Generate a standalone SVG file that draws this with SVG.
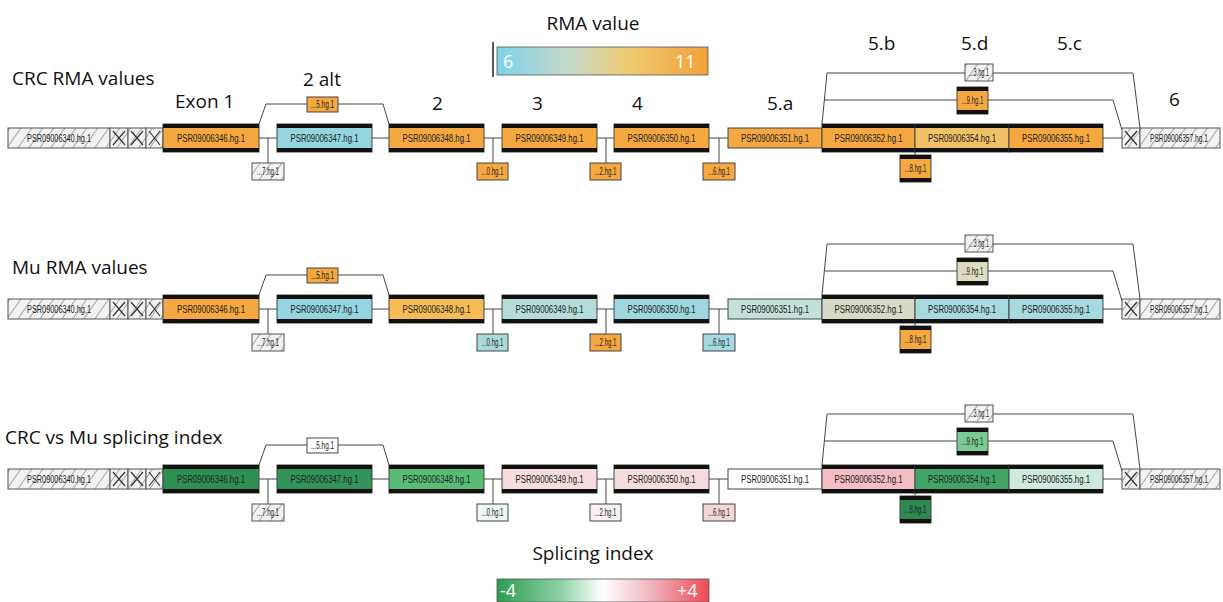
<svg xmlns="http://www.w3.org/2000/svg" width="1223" height="602" viewBox="0 0 1223 602">
<style>
.lbl{font-family:"Open Sans","Liberation Sans",sans-serif;font-size:19px;fill:#111}
.bt{font-family:"Liberation Sans",Arial,sans-serif;font-size:10px;fill:#222;text-anchor:middle}
.box{stroke:#444;stroke-width:1}
.bar{fill:#111}
.hat{fill:url(#hatch);stroke:#555;stroke-width:1}
.con{fill:none;stroke:#444;stroke-width:1}
.xl{stroke:#333;stroke-width:1.2;fill:none}
.leg{font-family:"Open Sans","Liberation Sans",sans-serif;font-size:18px;fill:#fff}
</style>
<defs>
<pattern id="hatch" patternUnits="userSpaceOnUse" width="9" height="9" patternTransform="rotate(35)">
<rect width="9" height="9" fill="#f2f2f2"/>
<line x1="0" y1="0" x2="0" y2="9" stroke="#666" stroke-width="1.1"/>
</pattern>
<linearGradient id="rma" x1="0" x2="1" y1="0" y2="0">
<stop offset="0" stop-color="#7ED3E8"/>
<stop offset="0.35" stop-color="#C5D9C8"/>
<stop offset="0.62" stop-color="#EECB70"/>
<stop offset="1" stop-color="#F4A03B"/>
</linearGradient>
<linearGradient id="si" x1="0" x2="1" y1="0" y2="0">
<stop offset="0" stop-color="#2E9B4F"/>
<stop offset="0.3" stop-color="#8ED2A6"/>
<stop offset="0.5" stop-color="#FFFFFF"/>
<stop offset="0.72" stop-color="#F0B6C0"/>
<stop offset="1" stop-color="#EC4B55"/>
</linearGradient>
</defs>
<rect width="1223" height="602" fill="#fff"/>

<g id="legend-rma">
<text class="lbl" x="593" y="30" text-anchor="middle">RMA value</text>
<line x1="493" y1="42" x2="493" y2="77" stroke="#222" stroke-width="1.5"/>
<rect x="497" y="47" width="211" height="28" fill="url(#rma)" stroke="#555" stroke-width="0.8"/>
<text class="leg" x="503" y="68">6</text>
<text class="leg" x="675" y="68">11</text>
</g>
<g id="legend-si">
<text class="lbl" x="593" y="560" text-anchor="middle">Splicing index</text>
<rect x="497" y="579" width="212" height="23" fill="url(#si)" stroke="#555" stroke-width="0.8"/>
<text class="leg" x="500" y="597">-4</text>
<text class="leg" x="677" y="597">+4</text>
</g>

<g id="labels">
<text class="lbl" x="12" y="85">CRC RMA values</text>
<text class="lbl" x="12" y="274">Mu RMA values</text>
<text class="lbl" x="5" y="444">CRC vs Mu splicing index</text>
<text class="lbl" x="175" y="108">Exon 1</text>
<text class="lbl" x="303" y="86">2 alt</text>
<text class="lbl" x="432" y="110">2</text>
<text class="lbl" x="532" y="110">3</text>
<text class="lbl" x="632" y="110">4</text>
<text class="lbl" x="767" y="110">5.a</text>
<text class="lbl" x="868" y="50">5.b</text>
<text class="lbl" x="961" y="50">5.d</text>
<text class="lbl" x="1057" y="50">5.c</text>
<text class="lbl" x="1169" y="106">6</text>
</g>

<!-- ROW 1 -->
<g id="row1">
<g id="r1-connectors">
<path class="con" d="M259,138 H277 M268,138 V163 M259,124 L266,104 H383 L389,124 M372,138 H389 M484,138 H502 M493,138 V163 M597,138 H614 M606,138 V163 M709,138 H728 M719,138 V163 M915,152 V155 M822,124 L827,73 H1133 L1140,128 M824.4,100 H1113 L1122,130 M1103,138 H1122"/>
</g>
<g id="r1-psr6340"><rect class="hat" x="8" y="128" width="102" height="20"/><text class="bt" x="59" y="141.5" textLength="64" lengthAdjust="spacingAndGlyphs">PSR09006340.hg.1</text></g>
<g id="r1-x1"><rect class="hat" x="110" y="128" width="18" height="20"/><path class="xl" d="M113,131 L125,145 M125,131 L113,145"/></g>
<g id="r1-x2"><rect class="hat" x="128" y="128" width="18" height="20"/><path class="xl" d="M131,131 L143,145 M143,131 L131,145"/></g>
<g id="r1-x3"><rect class="hat" x="146" y="128" width="17" height="20"/><path class="xl" d="M149,131 L160,145 M160,131 L149,145"/></g>
<g id="r1-psr6346"><rect class="box" x="163" y="124" width="96" height="28" fill="#F5A83F"/><rect class="bar" x="163" y="124" width="96" height="4"/><rect class="bar" x="163" y="148" width="96" height="4"/><text class="bt" x="211" y="141.5" textLength="68" lengthAdjust="spacingAndGlyphs">PSR09006346.hg.1</text></g>
<g id="r1-s7"><rect class="hat" x="252" y="163" width="32" height="17"/><text class="bt" x="268" y="175" textLength="22" lengthAdjust="spacingAndGlyphs">...7.hg.1</text></g>
<g id="r1-s5"><rect class="box" x="307" y="97" width="31" height="15" fill="#F5A83F"/><text class="bt" x="322.5" y="108" textLength="23" lengthAdjust="spacingAndGlyphs">...5.hg.1</text></g>
<g id="r1-psr6347"><rect class="box" x="277" y="124" width="95" height="28" fill="#94D5DF"/><rect class="bar" x="277" y="124" width="95" height="4"/><rect class="bar" x="277" y="148" width="95" height="4"/><text class="bt" x="324.5" y="141.5" textLength="68" lengthAdjust="spacingAndGlyphs">PSR09006347.hg.1</text></g>
<g id="r1-psr6348"><rect class="box" x="389" y="124" width="95" height="28" fill="#F5A83F"/><rect class="bar" x="389" y="124" width="95" height="4"/><rect class="bar" x="389" y="148" width="95" height="4"/><text class="bt" x="436.5" y="141.5" textLength="68" lengthAdjust="spacingAndGlyphs">PSR09006348.hg.1</text></g>
<g id="r1-s0"><rect class="box" x="477" y="163" width="31" height="17" fill="#F5A83F"/><text class="bt" x="492.5" y="175" textLength="22" lengthAdjust="spacingAndGlyphs">...0.hg.1</text></g>
<g id="r1-psr6349"><rect class="box" x="502" y="124" width="95" height="28" fill="#F5A83F"/><rect class="bar" x="502" y="124" width="95" height="4"/><rect class="bar" x="502" y="148" width="95" height="4"/><text class="bt" x="549.5" y="141.5" textLength="68" lengthAdjust="spacingAndGlyphs">PSR09006349.hg.1</text></g>
<g id="r1-s2"><rect class="box" x="590" y="163" width="31" height="17" fill="#F5A83F"/><text class="bt" x="605.5" y="175" textLength="22" lengthAdjust="spacingAndGlyphs">...2.hg.1</text></g>
<g id="r1-psr6350"><rect class="box" x="614" y="124" width="95" height="28" fill="#F5A83F"/><rect class="bar" x="614" y="124" width="95" height="4"/><rect class="bar" x="614" y="148" width="95" height="4"/><text class="bt" x="661.5" y="141.5" textLength="68" lengthAdjust="spacingAndGlyphs">PSR09006350.hg.1</text></g>
<g id="r1-s6"><rect class="box" x="703" y="163" width="32" height="17" fill="#F5A83F"/><text class="bt" x="719" y="175" textLength="22" lengthAdjust="spacingAndGlyphs">...6.hg.1</text></g>
<g id="r1-psr6351"><rect class="box" x="728" y="128" width="94" height="20" fill="#F5A83F"/><text class="bt" x="775" y="141.5" textLength="68" lengthAdjust="spacingAndGlyphs">PSR09006351.hg.1</text></g>
<g id="r1-psr6352"><rect class="box" x="822" y="124" width="93" height="28" fill="#F5A83F"/><rect class="bar" x="822" y="124" width="93" height="4"/><rect class="bar" x="822" y="148" width="93" height="4"/><text class="bt" x="868.5" y="141.5" textLength="68" lengthAdjust="spacingAndGlyphs">PSR09006352.hg.1</text></g>
<g id="r1-psr6354"><rect class="box" x="915" y="124" width="94" height="28" fill="#F0C066"/><rect class="bar" x="915" y="124" width="94" height="4"/><rect class="bar" x="915" y="148" width="94" height="4"/><text class="bt" x="962" y="141.5" textLength="68" lengthAdjust="spacingAndGlyphs">PSR09006354.hg.1</text></g>
<g id="r1-psr6355"><rect class="box" x="1009" y="124" width="94" height="28" fill="#F5A83F"/><rect class="bar" x="1009" y="124" width="94" height="4"/><rect class="bar" x="1009" y="148" width="94" height="4"/><text class="bt" x="1056" y="141.5" textLength="68" lengthAdjust="spacingAndGlyphs">PSR09006355.hg.1</text></g>
<g id="r1-s8"><rect class="box" x="900" y="155" width="31" height="27" fill="#F5A83F"/><rect class="bar" x="900" y="155" width="31" height="4"/><rect class="bar" x="900" y="178" width="31" height="4"/><text class="bt" x="915.5" y="172" textLength="22" lengthAdjust="spacingAndGlyphs">...8.hg.1</text></g>
<g id="r1-s9"><rect class="box" x="957" y="87" width="31" height="27" fill="#F5A83F"/><rect class="bar" x="957" y="87" width="31" height="4"/><rect class="bar" x="957" y="110" width="31" height="4"/><text class="bt" x="972.5" y="104" textLength="22" lengthAdjust="spacingAndGlyphs">...9.hg.1</text></g>
<g id="r1-s3"><rect class="hat" x="965" y="64" width="28" height="17"/><text class="bt" x="979" y="76" textLength="20" lengthAdjust="spacingAndGlyphs">...3.hg.1</text></g>
<g id="r1-x4"><rect class="hat" x="1122" y="128" width="18" height="20"/><path class="xl" d="M1125,131 L1137,145 M1137,131 L1125,145"/></g>
<g id="r1-psr6357"><rect class="hat" x="1140" y="128" width="80" height="20"/><text class="bt" x="1179" y="141.5" textLength="58" lengthAdjust="spacingAndGlyphs">PSR09006357.hg.1</text></g>
</g>

<!-- ROW 2 -->
<g id="row2" transform="translate(0,171)">
<g id="r2-connectors">
<path class="con" d="M259,138 H277 M268,138 V163 M259,124 L266,104 H383 L389,124 M372,138 H389 M484,138 H502 M493,138 V163 M597,138 H614 M606,138 V163 M709,138 H728 M719,138 V163 M915,152 V155 M822,124 L827,73 H1133 L1140,128 M824.4,100 H1113 L1122,130 M1103,138 H1122"/>
</g>
<g id="r2-psr6340"><rect class="hat" x="8" y="128" width="102" height="20"/><text class="bt" x="59" y="141.5" textLength="64" lengthAdjust="spacingAndGlyphs">PSR09006340.hg.1</text></g>
<g id="r2-x1"><rect class="hat" x="110" y="128" width="18" height="20"/><path class="xl" d="M113,131 L125,145 M125,131 L113,145"/></g>
<g id="r2-x2"><rect class="hat" x="128" y="128" width="18" height="20"/><path class="xl" d="M131,131 L143,145 M143,131 L131,145"/></g>
<g id="r2-x3"><rect class="hat" x="146" y="128" width="17" height="20"/><path class="xl" d="M149,131 L160,145 M160,131 L149,145"/></g>
<g id="r2-psr6346"><rect class="box" x="163" y="124" width="96" height="28" fill="#F5A83F"/><rect class="bar" x="163" y="124" width="96" height="4"/><rect class="bar" x="163" y="148" width="96" height="4"/><text class="bt" x="211" y="141.5" textLength="68" lengthAdjust="spacingAndGlyphs">PSR09006346.hg.1</text></g>
<g id="r2-s7"><rect class="hat" x="252" y="163" width="32" height="17"/><text class="bt" x="268" y="175" textLength="22" lengthAdjust="spacingAndGlyphs">...7.hg.1</text></g>
<g id="r2-s5"><rect class="box" x="307" y="97" width="31" height="15" fill="#F5A83F"/><text class="bt" x="322.5" y="108" textLength="23" lengthAdjust="spacingAndGlyphs">...5.hg.1</text></g>
<g id="r2-psr6347"><rect class="box" x="277" y="124" width="95" height="28" fill="#94D5DF"/><rect class="bar" x="277" y="124" width="95" height="4"/><rect class="bar" x="277" y="148" width="95" height="4"/><text class="bt" x="324.5" y="141.5" textLength="68" lengthAdjust="spacingAndGlyphs">PSR09006347.hg.1</text></g>
<g id="r2-psr6348"><rect class="box" x="389" y="124" width="95" height="28" fill="#F6BD57"/><rect class="bar" x="389" y="124" width="95" height="4"/><rect class="bar" x="389" y="148" width="95" height="4"/><text class="bt" x="436.5" y="141.5" textLength="68" lengthAdjust="spacingAndGlyphs">PSR09006348.hg.1</text></g>
<g id="r2-s0"><rect class="box" x="477" y="163" width="31" height="17" fill="#A9D9D9"/><text class="bt" x="492.5" y="175" textLength="22" lengthAdjust="spacingAndGlyphs">...0.hg.1</text></g>
<g id="r2-psr6349"><rect class="box" x="502" y="124" width="95" height="28" fill="#B4DDD9"/><rect class="bar" x="502" y="124" width="95" height="4"/><rect class="bar" x="502" y="148" width="95" height="4"/><text class="bt" x="549.5" y="141.5" textLength="68" lengthAdjust="spacingAndGlyphs">PSR09006349.hg.1</text></g>
<g id="r2-s2"><rect class="box" x="590" y="163" width="31" height="17" fill="#F5A83F"/><text class="bt" x="605.5" y="175" textLength="22" lengthAdjust="spacingAndGlyphs">...2.hg.1</text></g>
<g id="r2-psr6350"><rect class="box" x="614" y="124" width="95" height="28" fill="#9ED7DF"/><rect class="bar" x="614" y="124" width="95" height="4"/><rect class="bar" x="614" y="148" width="95" height="4"/><text class="bt" x="661.5" y="141.5" textLength="68" lengthAdjust="spacingAndGlyphs">PSR09006350.hg.1</text></g>
<g id="r2-s6"><rect class="box" x="703" y="163" width="32" height="17" fill="#A3D9E1"/><text class="bt" x="719" y="175" textLength="22" lengthAdjust="spacingAndGlyphs">...6.hg.1</text></g>
<g id="r2-psr6351"><rect class="box" x="728" y="128" width="94" height="20" fill="#C3E0DA"/><text class="bt" x="775" y="141.5" textLength="68" lengthAdjust="spacingAndGlyphs">PSR09006351.hg.1</text></g>
<g id="r2-psr6352"><rect class="box" x="822" y="124" width="93" height="28" fill="#D5D9C6"/><rect class="bar" x="822" y="124" width="93" height="4"/><rect class="bar" x="822" y="148" width="93" height="4"/><text class="bt" x="868.5" y="141.5" textLength="68" lengthAdjust="spacingAndGlyphs">PSR09006352.hg.1</text></g>
<g id="r2-psr6354"><rect class="box" x="915" y="124" width="94" height="28" fill="#A6DADF"/><rect class="bar" x="915" y="124" width="94" height="4"/><rect class="bar" x="915" y="148" width="94" height="4"/><text class="bt" x="962" y="141.5" textLength="68" lengthAdjust="spacingAndGlyphs">PSR09006354.hg.1</text></g>
<g id="r2-psr6355"><rect class="box" x="1009" y="124" width="94" height="28" fill="#A6DADF"/><rect class="bar" x="1009" y="124" width="94" height="4"/><rect class="bar" x="1009" y="148" width="94" height="4"/><text class="bt" x="1056" y="141.5" textLength="68" lengthAdjust="spacingAndGlyphs">PSR09006355.hg.1</text></g>
<g id="r2-s8"><rect class="box" x="900" y="155" width="31" height="27" fill="#F5A83F"/><rect class="bar" x="900" y="155" width="31" height="4"/><rect class="bar" x="900" y="178" width="31" height="4"/><text class="bt" x="915.5" y="172" textLength="22" lengthAdjust="spacingAndGlyphs">...8.hg.1</text></g>
<g id="r2-s9"><rect class="box" x="957" y="87" width="31" height="27" fill="#DCDCC1"/><rect class="bar" x="957" y="87" width="31" height="4"/><rect class="bar" x="957" y="110" width="31" height="4"/><text class="bt" x="972.5" y="104" textLength="22" lengthAdjust="spacingAndGlyphs">...9.hg.1</text></g>
<g id="r2-s3"><rect class="hat" x="965" y="64" width="28" height="17"/><text class="bt" x="979" y="76" textLength="20" lengthAdjust="spacingAndGlyphs">...3.hg.1</text></g>
<g id="r2-x4"><rect class="hat" x="1122" y="128" width="18" height="20"/><path class="xl" d="M1125,131 L1137,145 M1137,131 L1125,145"/></g>
<g id="r2-psr6357"><rect class="hat" x="1140" y="128" width="80" height="20"/><text class="bt" x="1179" y="141.5" textLength="58" lengthAdjust="spacingAndGlyphs">PSR09006357.hg.1</text></g>
</g>

<!-- ROW 3 -->
<g id="row3" transform="translate(0,341)">
<g id="r3-connectors">
<path class="con" d="M259,138 H277 M268,138 V163 M259,124 L266,104 H383 L389,124 M372,138 H389 M484,138 H502 M493,138 V163 M597,138 H614 M606,138 V163 M709,138 H728 M719,138 V163 M915,152 V155 M822,124 L827,73 H1133 L1140,128 M824.4,100 H1113 L1122,130 M1103,138 H1122"/>
</g>
<g id="r3-psr6340"><rect class="hat" x="8" y="128" width="102" height="20"/><text class="bt" x="59" y="141.5" textLength="64" lengthAdjust="spacingAndGlyphs">PSR09006340.hg.1</text></g>
<g id="r3-x1"><rect class="hat" x="110" y="128" width="18" height="20"/><path class="xl" d="M113,131 L125,145 M125,131 L113,145"/></g>
<g id="r3-x2"><rect class="hat" x="128" y="128" width="18" height="20"/><path class="xl" d="M131,131 L143,145 M143,131 L131,145"/></g>
<g id="r3-x3"><rect class="hat" x="146" y="128" width="17" height="20"/><path class="xl" d="M149,131 L160,145 M160,131 L149,145"/></g>
<g id="r3-psr6346"><rect class="box" x="163" y="124" width="96" height="28" fill="#2F8F52"/><rect class="bar" x="163" y="124" width="96" height="4"/><rect class="bar" x="163" y="148" width="96" height="4"/><text class="bt" x="211" y="141.5" textLength="68" lengthAdjust="spacingAndGlyphs">PSR09006346.hg.1</text></g>
<g id="r3-s7"><rect class="hat" x="252" y="163" width="32" height="17"/><text class="bt" x="268" y="175" textLength="22" lengthAdjust="spacingAndGlyphs">...7.hg.1</text></g>
<g id="r3-s5"><rect class="box" x="307" y="97" width="31" height="15" fill="#FFFFFF"/><text class="bt" x="322.5" y="108" textLength="23" lengthAdjust="spacingAndGlyphs">...5.hg.1</text></g>
<g id="r3-psr6347"><rect class="box" x="277" y="124" width="95" height="28" fill="#33945A"/><rect class="bar" x="277" y="124" width="95" height="4"/><rect class="bar" x="277" y="148" width="95" height="4"/><text class="bt" x="324.5" y="141.5" textLength="68" lengthAdjust="spacingAndGlyphs">PSR09006347.hg.1</text></g>
<g id="r3-psr6348"><rect class="box" x="389" y="124" width="95" height="28" fill="#58BC77"/><rect class="bar" x="389" y="124" width="95" height="4"/><rect class="bar" x="389" y="148" width="95" height="4"/><text class="bt" x="436.5" y="141.5" textLength="68" lengthAdjust="spacingAndGlyphs">PSR09006348.hg.1</text></g>
<g id="r3-s0"><rect class="box" x="477" y="163" width="31" height="17" fill="#EEF6F3"/><text class="bt" x="492.5" y="175" textLength="22" lengthAdjust="spacingAndGlyphs">...0.hg.1</text></g>
<g id="r3-psr6349"><rect class="box" x="502" y="124" width="95" height="28" fill="#F6DCDC"/><rect class="bar" x="502" y="124" width="95" height="4"/><rect class="bar" x="502" y="148" width="95" height="4"/><text class="bt" x="549.5" y="141.5" textLength="68" lengthAdjust="spacingAndGlyphs">PSR09006349.hg.1</text></g>
<g id="r3-s2"><rect class="box" x="590" y="163" width="31" height="17" fill="#F8F1F1"/><text class="bt" x="605.5" y="175" textLength="22" lengthAdjust="spacingAndGlyphs">...2.hg.1</text></g>
<g id="r3-psr6350"><rect class="box" x="614" y="124" width="95" height="28" fill="#F5DCDC"/><rect class="bar" x="614" y="124" width="95" height="4"/><rect class="bar" x="614" y="148" width="95" height="4"/><text class="bt" x="661.5" y="141.5" textLength="68" lengthAdjust="spacingAndGlyphs">PSR09006350.hg.1</text></g>
<g id="r3-s6"><rect class="box" x="703" y="163" width="32" height="17" fill="#F4D6D7"/><text class="bt" x="719" y="175" textLength="22" lengthAdjust="spacingAndGlyphs">...6.hg.1</text></g>
<g id="r3-psr6351"><rect class="box" x="728" y="128" width="94" height="20" fill="#FFFFFF"/><text class="bt" x="775" y="141.5" textLength="68" lengthAdjust="spacingAndGlyphs">PSR09006351.hg.1</text></g>
<g id="r3-psr6352"><rect class="box" x="822" y="124" width="93" height="28" fill="#F4BCC4"/><rect class="bar" x="822" y="124" width="93" height="4"/><rect class="bar" x="822" y="148" width="93" height="4"/><text class="bt" x="868.5" y="141.5" textLength="68" lengthAdjust="spacingAndGlyphs">PSR09006352.hg.1</text></g>
<g id="r3-psr6354"><rect class="box" x="915" y="124" width="94" height="28" fill="#42A565"/><rect class="bar" x="915" y="124" width="94" height="4"/><rect class="bar" x="915" y="148" width="94" height="4"/><text class="bt" x="962" y="141.5" textLength="68" lengthAdjust="spacingAndGlyphs">PSR09006354.hg.1</text></g>
<g id="r3-psr6355"><rect class="box" x="1009" y="124" width="94" height="28" fill="#CDEADD"/><rect class="bar" x="1009" y="124" width="94" height="4"/><rect class="bar" x="1009" y="148" width="94" height="4"/><text class="bt" x="1056" y="141.5" textLength="68" lengthAdjust="spacingAndGlyphs">PSR09006355.hg.1</text></g>
<g id="r3-s8"><rect class="box" x="900" y="155" width="31" height="27" fill="#2E8A4E"/><rect class="bar" x="900" y="155" width="31" height="4"/><rect class="bar" x="900" y="178" width="31" height="4"/><text class="bt" x="915.5" y="172" textLength="22" lengthAdjust="spacingAndGlyphs">...8.hg.1</text></g>
<g id="r3-s9"><rect class="box" x="957" y="87" width="31" height="27" fill="#7ACB92"/><rect class="bar" x="957" y="87" width="31" height="4"/><rect class="bar" x="957" y="110" width="31" height="4"/><text class="bt" x="972.5" y="104" textLength="22" lengthAdjust="spacingAndGlyphs">...9.hg.1</text></g>
<g id="r3-s3"><rect class="hat" x="965" y="64" width="28" height="17"/><text class="bt" x="979" y="76" textLength="20" lengthAdjust="spacingAndGlyphs">...3.hg.1</text></g>
<g id="r3-x4"><rect class="hat" x="1122" y="128" width="18" height="20"/><path class="xl" d="M1125,131 L1137,145 M1137,131 L1125,145"/></g>
<g id="r3-psr6357"><rect class="hat" x="1140" y="128" width="80" height="20"/><text class="bt" x="1179" y="141.5" textLength="58" lengthAdjust="spacingAndGlyphs">PSR09006357.hg.1</text></g>
</g>
</svg>
